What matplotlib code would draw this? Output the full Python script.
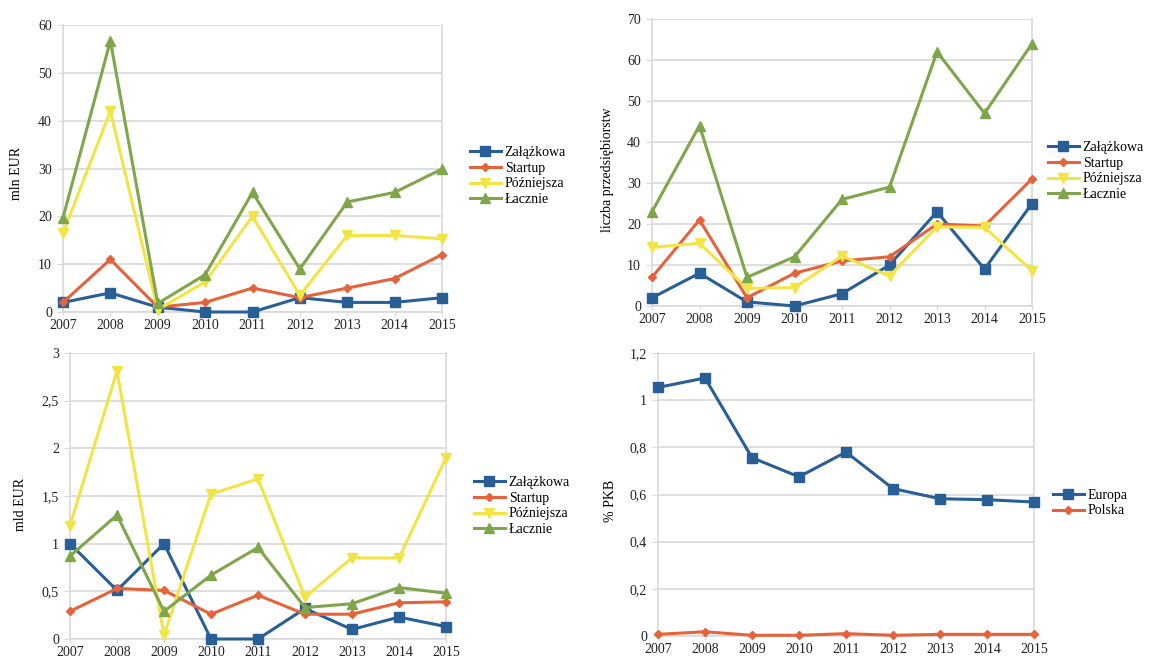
import matplotlib
matplotlib.use("Agg")
import matplotlib.pyplot as plt
from matplotlib.ticker import FuncFormatter, MultipleLocator

plt.rcParams['font.family'] = ['Liberation Serif', 'DejaVu Serif']
plt.rcParams['font.size'] = 10

years = [2007, 2008, 2009, 2010, 2011, 2012, 2013, 2014, 2015]
stages = ["Załążkowa", "Startup", "Późniejsza", "Łacznie"]

# value of investments, mln EUR (Polska)
mln_zalazkowa = [2, 4, 1, 0, 0, 3, 2, 2, 3]
mln_startup = [2, 11, 1, 2, 5, 3, 5, 7, 12]
mln_pozniejsza = [16.5, 42, 0.5, 6.3, 20, 3.5, 16, 16, 15.3]
mln_lacznie = [19.7, 56.7, 1.8, 7.8, 25, 9, 23, 25, 29.9]

# number of companies
n_zalazkowa = [2, 8, 1, 0, 3, 10, 23, 9, 25]
n_startup = [7, 21, 2, 8, 11, 12, 20, 19.5, 31]
n_pozniejsza = [14.3, 15.3, 4.3, 4.5, 12.2, 7.3, 19.3, 19.2, 8.6]
n_lacznie = [23, 44, 7, 12, 26, 29, 62, 47, 64]

# value of investments, mld EUR (Europa)
mld_zalazkowa = [1.0, 0.51, 1.0, 0.0, 0.0, 0.32, 0.1, 0.23, 0.13]
mld_startup = [0.29, 0.53, 0.51, 0.26, 0.46, 0.26, 0.26, 0.38, 0.39]
mld_pozniejsza = [1.19, 2.81, 0.04, 1.52, 1.68, 0.44, 0.85, 0.85, 1.9]
mld_lacznie = [0.87, 1.3, 0.29, 0.67, 0.96, 0.33, 0.37, 0.54, 0.48]

# share of GDP
gdp_labels = ["Europa", "Polska"]
gdp_europa = [1.054, 1.094, 0.756, 0.675, 0.78, 0.625, 0.582, 0.578, 0.568]
gdp_polska = [0.007, 0.018, 0.003, 0.003, 0.01, 0.003, 0.007, 0.007, 0.007]

BLUE = '#285f96'
RED = '#e5633b'
YELLOW = '#f2e445'
GREEN = '#7fa64a'
GRID = '#d9d9d9'

styles = [
    dict(color=BLUE, marker='s', markersize=6.5),
    dict(color=RED, marker='D', markersize=4),
    dict(color=YELLOW, marker='v', markersize=7),
    dict(color=GREEN, marker='^', markersize=6.5),
]

W, H = 1150, 662
fig = plt.figure(figsize=(W / 100, H / 100), dpi=100)


def px_axes(x0, x1, ytop, ybot):
    return fig.add_axes([x0 / W, 1 - ybot / H, (x1 - x0) / W, (ybot - ytop) / H])


def comma(v, pos):
    return ('%g' % v).replace('.', ',')


def style_axes(ax, ymax, step):
    ax.set_xlim(years[0], years[-1])
    ax.set_ylim(0, ymax)
    ax.set_xticks(years)
    ax.yaxis.set_major_locator(MultipleLocator(step))
    ax.yaxis.set_major_formatter(FuncFormatter(comma))
    ax.grid(axis='y', color=GRID, linewidth=1.2)
    ax.set_axisbelow(True)
    for side in ['left', 'right', 'bottom']:
        ax.spines[side].set_color(GRID)
        ax.spines[side].set_linewidth(1.2)
        ax.spines[side].set_zorder(0.5)
    ax.spines['top'].set_visible(False)
    ax.tick_params(axis='y', length=4, color=GRID, pad=4, labelcolor='#222222')
    ax.tick_params(axis='x', length=3, color=GRID, pad=2, labelcolor='#222222')
    for lbl in ax.get_yticklabels() + ax.get_xticklabels():
        lbl.set_fontsize(10)


def add_legend(ax, x_px, y_px):
    ax.legend(loc='center left', bbox_to_anchor=(x_px / W, 1 - y_px / H),
              bbox_transform=fig.transFigure, frameon=False, borderpad=0,
              borderaxespad=0, handlelength=2.2, handletextpad=0.3,
              labelspacing=0.2, fontsize=10)


def draw(ax, series, labels):
    for vals, lab, st in zip(series, labels, styles):
        ax.plot(years, vals, label=lab, linewidth=2.2, clip_on=False, zorder=3, **st)


# top left: mln EUR
ax1 = px_axes(63, 442, 25, 312)
draw(ax1, [mln_zalazkowa, mln_startup, mln_pozniejsza, mln_lacznie], stages)
style_axes(ax1, 60, 10)
add_legend(ax1, 470, 176)
fig.text(17 / W, 1 - 173 / H, "mln EUR", rotation=90, ha='center', va='center')

# top right: number of companies
ax2 = px_axes(652, 1032, 19, 306)
draw(ax2, [n_zalazkowa, n_startup, n_pozniejsza, n_lacznie], stages)
style_axes(ax2, 70, 10)
add_legend(ax2, 1048, 171)
fig.text(607 / W, 1 - 170 / H, "liczba przedsiębiorstw", rotation=90,
         ha='center', va='center')

# bottom left: mld EUR
ax3 = px_axes(70, 446, 353, 639)
draw(ax3, [mld_zalazkowa, mld_startup, mld_pozniejsza, mld_lacznie], stages)
style_axes(ax3, 3, 0.5)
add_legend(ax3, 474, 506)
fig.text(20 / W, 1 - 504 / H, "mld EUR", rotation=90, ha='center', va='center')

# bottom right: % of GDP
ax4 = px_axes(658, 1034, 353, 636)
ax4.plot(years, gdp_europa, label=gdp_labels[0], linewidth=2.2, clip_on=False,
         zorder=3, **styles[0])
ax4.plot(years, gdp_polska, label=gdp_labels[1], linewidth=2.2, clip_on=False,
         zorder=3, **styles[1])
style_axes(ax4, 1.2, 0.2)
add_legend(ax4, 1053, 503)
fig.text(611 / W, 1 - 501 / H, "% PKB", rotation=90, ha='center', va='center')

fig.savefig("out.png", dpi=100, facecolor='white')
